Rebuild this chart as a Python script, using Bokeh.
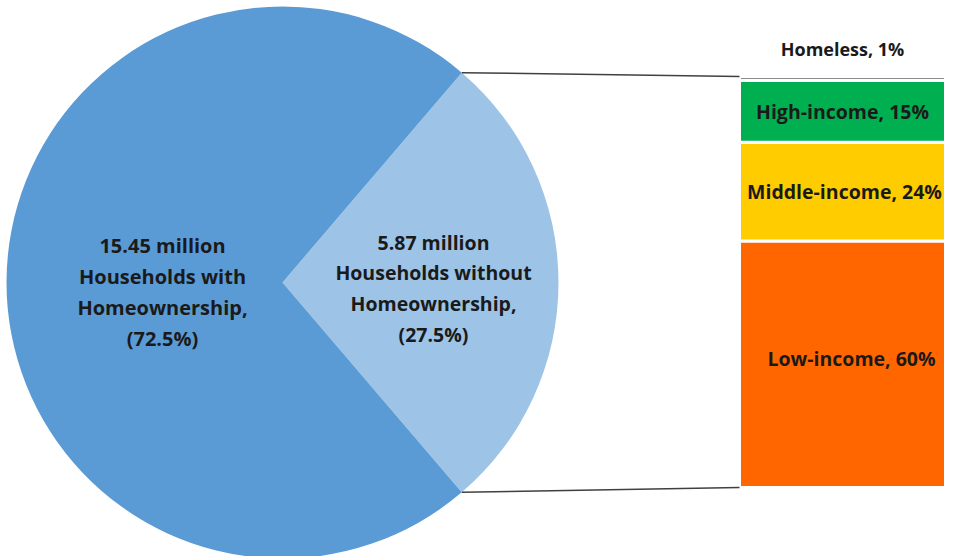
import math
from bokeh.plotting import figure
from bokeh.models import Range1d, ColumnDataSource
from bokeh.core.properties import value
from bokeh.embed import file_html
from bokeh.resources import INLINE

# ---- data ----
pie_labels = ["Households without Homeownership", "Households with Homeownership"]
pie_values = [27.5, 72.5]
pie_millions = ["5.87", "15.45"]
pie_colors = ["#9DC3E6", "#5B9BD5"]

bar_categories = ["Low-income", "Middle-income", "High-income", "Homeless"]
bar_values = [60, 24, 15, 1]
bar_colors = ["#FF6600", "#FFCC00", "#00B050", "#8C8C8C"]

W, H = 953, 556
p = figure(width=W, height=H, output_backend="svg", toolbar_location=None,
           x_range=Range1d(0, W), y_range=Range1d(0, H), min_border=0,
           outline_line_color=None)
p.axis.visible = False
p.grid.visible = False
p.background_fill_color = "white"
p.border_fill_color = "white"

# pie geometry
cx, cy, r = 282, 274, 276
half = pie_values[0] / 100 * math.pi  # light slice centred on angle 0
starts = [-half, half]
ends = [half, 2 * math.pi - half]
p.wedge(x=cx, y=cy, radius=r, start_angle=starts, end_angle=ends,
        fill_color=pie_colors, line_color="white", line_width=0)

font = value("Open Sans")
left_lines = [f"{pie_millions[1]} million", "Households with", "Homeownership,", f"({pie_values[1]}%)"]
right_lines = [f"{pie_millions[0]} million", "Households without", "Homeownership,", f"({pie_values[0]}%)"]
ly = [556 - 245, 556 - 276, 556 - 307, 556 - 338]
ry = [556 - 242, 556 - 272, 556 - 303, 556 - 334]
p.text(x=[162] * 4, y=ly, text=left_lines, text_font=font, text_font_style="bold",
       text_font_size="20px", text_align="center", text_baseline="middle", text_color="#1a1a1a")
p.text(x=[433] * 4, y=ry, text=right_lines, text_font=font, text_font_style="bold",
       text_font_size="19.5px", text_align="center", text_baseline="middle", text_color="#1a1a1a")

# bar of pie: percent range mapped so 0% -> y=69, 100% -> y=480
b0, b1 = 69, 480
scale = (b1 - b0) / 100
p.extra_y_ranges = {"bar": Range1d(-b0 / scale, (H - b0) / scale)}
bottoms = []
acc = 0
for v in bar_values:
    bottoms.append(acc)
    acc += v
tops = [b + v for b, v in zip(bottoms, bar_values)]
bar_x, bar_w = 842, 206
src = ColumnDataSource(dict(x=[bar_x] * 4, bottom=bottoms, top=tops, color=bar_colors))
p.vbar(x="x", bottom="bottom", top="top", width=bar_w, fill_color="color",
       line_color="white", line_width=3, source=src, y_range_name="bar")

# connector lines
tip_x = cx + r * math.cos(half)
tip_top = cy + r * math.sin(half)
tip_bot = cy - r * math.sin(half)
left_edge = bar_x - bar_w / 2
p.segment(x0=[tip_x, tip_x], y0=[tip_top, tip_bot], x1=[left_edge, left_edge],
          y1=[b0 + 100 * scale, b0], line_color="#404040", line_width=1.5)

# bar labels
mids = [(b + t) / 2 for b, t in zip(bottoms, tops)]
lab_x = [851, bar_x + 2, bar_x, bar_x]
lab_y = [mids[0] + 1.5, mids[1], mids[2], 100 + 6.6]
lab_text = [f"{c}, {v}%" for c, v in zip(bar_categories, bar_values)]
lab_size = ["19.5px", "19.5px", "19.5px", "18px"]
p.text(x=lab_x, y=lab_y, text=lab_text, text_font=font, text_font_style="bold",
       text_font_size=lab_size, text_align="center", text_baseline="middle",
       text_color="#1a1a1a", y_range_name="bar")

open("out.html", "w").write(file_html(p, INLINE))
